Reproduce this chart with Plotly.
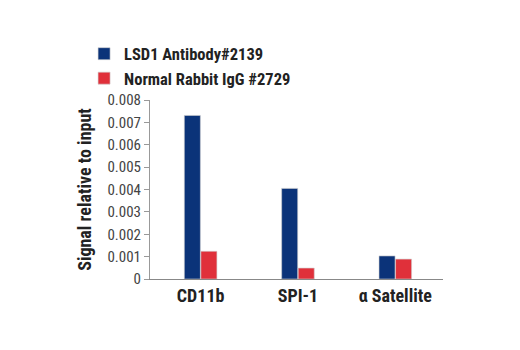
import plotly.graph_objects as go

categories = ["CD11b", "SPI-1", "α Satellite"]
lsd1 = [0.00731, 0.00405, 0.00103]
igg = [0.00124, 0.00049, 0.00089]
series_names = ["LSD1 Antibody#2139", "Normal Rabbit IgG #2729"]
tick_vals = [0, 0.001, 0.002, 0.003, 0.004, 0.005, 0.006, 0.007, 0.008]
tick_text = ["0", "0.001", "0.002", "0.003", "0.004", "0.005", "0.006", "0.007", "0.008"]

FONT = "Liberation Sans Narrow, Roboto Condensed, Arial Narrow, Liberation Sans, sans-serif"

fig = go.Figure()
fig.add_trace(go.Bar(x=categories, y=lsd1, name="<b>" + series_names[0] + "</b>",
                     marker=dict(color="#0b3379", line=dict(color="#d0d0d0", width=0.6))))
fig.add_trace(go.Bar(x=categories, y=igg, name="<b>" + series_names[1] + "</b>",
                     marker=dict(color="#e0303a", line=dict(color="#d0d0d0", width=0.6))))

fig.update_layout(
    width=520, height=350,
    margin=dict(l=150, r=77, t=100, b=71),
    paper_bgcolor="white", plot_bgcolor="white",
    barmode="group", bargap=0.66, bargroupgap=0.03,
    font=dict(family=FONT, color="#222"),
    legend=dict(x=-0.225, y=1.355, xanchor="left", yanchor="top",
                font=dict(family=FONT, size=16.5, color="#222"),
                itemwidth=30, tracegroupgap=0, bgcolor="rgba(0,0,0,0)"),
    xaxis=dict(range=[-0.52, 2.49], showline=True, linecolor="#888", linewidth=1,
               ticks="", showgrid=False, zeroline=False,
               tickfont=dict(family=FONT, size=18, color="#222"),
               tickprefix="<b>", ticksuffix="</b>"),
    yaxis=dict(range=[0, 0.008], tickvals=tick_vals, ticktext=tick_text,
               showline=True, linecolor="#999", linewidth=1,
               ticks="outside", ticklen=5, tickcolor="#999",
               showgrid=False, zeroline=False,
               tickfont=dict(family=FONT, size=15, color="#444"),
               title=dict(text="<b>Signal relative to input</b>",
                          font=dict(family=FONT, size=18, color="#222"), standoff=11)),
)

fig.write_html("out.html")
